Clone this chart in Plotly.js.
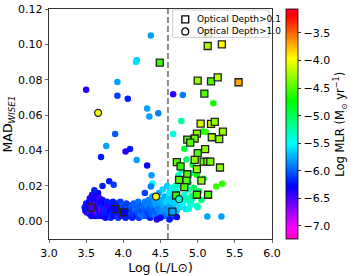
<!DOCTYPE html>
<html><head><meta charset="utf-8">
<script src="https://cdn.plot.ly/plotly-3.0.1.min.js"></script>
<style>html,body{margin:0;padding:0;background:#fff}#chart{width:357px;height:276px}</style>
</head><body><div id="chart"></div>
<script>
// Dense cluster (Log L, MAD, Log MLR)
const clusterA_L = [3.48,3.49,3.50,3.51,3.52,3.53,3.54,3.55,3.55,3.56,3.56];
const clusterA_MAD = [.008,.006,.010,.005,.009,.007,.011,.004,.013,.006,.009];
const clusterA_MLR = [-6.2,-6.3,-6.2,-6.35,-6.45,-6.2,-6.3,-6.45,-6.35,-6.6,-6.3];

const clusterB_L = [3.57,3.58,3.58,3.59,3.60,3.60,3.61,3.62,3.62,3.63,3.63,3.64,3.65,3.65,3.66,3.66,3.67,3.68,3.68,3.69,3.69,3.70,3.70];
const clusterB_MAD = [.003,.011,.015,.007,.005,.012,.009,.003,.014,.007,.010,.005,.012,.008,.003,.016,.010,.006,.013,.004,.009,.011,.007];
const clusterB_MLR = [-6.35,-6.5,-6.4,-6.7,-6.35,-6.3,-6.5,-6.3,-6.35,-6.4,-6.6,-6.7,-6.3,-6.35,-6.2,-6.3,-6.45,-6.3,-6.5,-6.45,-6.2,-6.35,-6.6];

const clusterC_L = [3.71,3.72,3.72,3.73,3.74,3.75,3.75,3.76,3.77,3.78,3.78,3.79,3.80,3.80,3.81,3.82,3.83,3.83,3.84,3.85];
const clusterC_MAD = [.003,.009,.012,.006,.004,.010,.007,.002,.008,.005,.011,.003,.007,.009,.004,.006,.010,.002,.008,.005];
const clusterC_MLR = [-6.3,-6.2,-6.35,-6.45,-6.2,-6.3,-6.15,-6.35,-6.45,-6.2,-6.2,-6.3,-6.15,-6.35,-6.2,-6.3,-6.2,-6.15,-6.35,-6.2];

const clusterD_L = [3.86,3.87,3.88,3.89,3.90,3.91,3.92,3.93,3.94,3.95,3.96,3.97,3.98,3.99,4.00,4.01,4.02,4.03,4.04,4.05,4.06,4.07,4.08,4.09,4.10];
const clusterD_MAD = [.011,.003,.007,.009,.004,.006,.010,.002,.008,.005,.011,.003,.007,.009,.004,.008,.006,.002,.010,.005,.007,.003,.009,.006,.004];
const clusterD_MLR = [-6.2,-6.3,-6.1,-6.4,-6.2,-6.3,-6.2,-6.1,-6.3,-6.2,-6.1,-6.4,-6.2,-6.0,-6.3,-6.1,-6.2,-6.2,-6.1,-6.3,-6.0,-6.2,-6.1,-6.2,-6.1];

const clusterE_L = [4.11,4.12,4.13,4.14,4.15,4.16,4.17,4.18,4.19,4.20,4.21,4.22,4.23,4.24,4.25,4.26,4.27,4.28,4.29,4.30];
const clusterE_MAD = [.008,.002,.006,.010,.004,.007,.003,.009,.005,.011,.002,.007,.004,.009,.006,.003,.008,.005,.011,.007];
const clusterE_MLR = [-6.0,-6.2,-6.1,-6.0,-6.1,-5.95,-6.2,-6.0,-6.05,-5.95,-6.1,-6.0,-5.95,-6.0,-6.1,-5.95,-5.95,-6.0,-5.9,-6.0];

const clusterF_L = [4.31,4.32,4.33,4.34,4.35,4.36,4.37,4.38,4.39,4.40,4.41,4.42,4.43,4.44,4.45,4.46,4.47,4.48,4.49,4.50];
const clusterF_MAD = [.003,.009,.005,.012,.007,.002,.010,.004,.014,.008,.006,.011,.003,.009,.005,.013,.007,.016,.004,.010];
const clusterF_MLR = [-6.0,-5.9,-6.1,-5.9,-6.0,-6.2,-5.9,-6.0,-5.8,-5.9,-6.0,-5.8,-5.9,-5.8,-6.0,-5.75,-5.9,-5.75,-5.9,-5.8];

const clusterG_L = [4.51,4.52,4.53,4.54,4.55,4.56,4.57,4.58,4.59,4.60,4.61,4.62,4.63,4.64,4.65,4.66,4.67,4.68,4.69,4.70];
const clusterG_MAD = [.012,.006,.018,.009,.003,.014,.011,.007,.020,.005,.013,.016,.009,.002,.011,.019,.007,.014,.004,.010];
const clusterG_MLR = [-5.75,-5.85,-5.65,-5.75,-5.95,-5.75,-5.65,-5.85,-5.65,-5.85,-5.65,-5.55,-5.75,-6.05,-5.65,-5.55,-5.75,-5.65,-5.95,-5.65];

const clusterH_L = [4.71,4.72,4.74,4.76,4.78,4.80,4.82,4.84,4.86,4.88,4.90,4.93,4.45,4.50,4.62,4.72];
const clusterH_MAD = [.017,.006,.012,.008,.020,.010,.015,.007,.012,.018,.009,.013,.001,.002,.001,.0025];
const clusterH_MLR = [-5.4,-5.7,-5.5,-5.6,-5.4,-5.5,-5.4,-5.6,-5.4,-5.3,-5.5,-5.4,-6.4,-6.3,-6.2,-6.3];

// Scattered dots above the cluster
const sparseL = [4.37,4.18,4.17,3.92,3.50,3.92,4.06,4.67,4.32,4.35,4.47,4.80,4.67,3.89,3.77,3.70,4.09,4.03,4.18,4.32,4.38,3.81,3.87,3.72,3.61,4.39,4.37,4.29,4.78];
const sparseMAD = [.105,.091,.090,.0788,.0744,.071,.0693,.0718,.0637,.0592,.0611,.0714,.0494,.0494,.0425,.0364,.0409,.0394,.0347,.0315,.026,.0227,.0206,.0199,.0176,.0213,.0197,.016,.0567];
const sparseMLR = [-5.8,-5.7,-5.6,-5.8,-6.4,-6.1,-6.2,-6.4,-5.8,-5.8,-5.9,-5.9,-5.4,-6.0,-5.8,-6.2,-6.2,-6.4,-5.8,-6.3,-5.8,-6.2,-6.1,-6.2,-6.2,-5.5,-5.9,-6.1,-5.2];

// Greenish dots at high luminosity
const brightL = [5.21,5.07,5.11,4.93,4.90,4.99,5.25,5.33,5.13,5.32,4.78,4.85,4.95,5.02,4.88,4.74,5.08,4.70,4.92,5.05,4.84,5.00,4.82,4.91,4.99,4.88];
const brightMAD = [.0667,.0507,.0505,.032,.0272,.0263,.0197,.0212,.0027,.0027,.029,.035,.019,.017,.022,.026,.024,.020,.0145,.012,.013,.008,.041,.011,.0088,.0069];
const brightMLR = [-4.7,-4.7,-4.6,-4.9,-5.1,-4.7,-4.6,-4.6,-5.8,-5.8,-5.2,-5.1,-5.0,-5.0,-5.2,-5.3,-4.9,-5.3,-5.1,-5.1,-5.3,-5.3,-4.9,-5.3,-5.3,-5.4];

// Optical depth > 0.1 (squares)
const sqL = [4.49,5.135,5.135,5.325,5.00,5.18,5.27,5.55,5.09,5.04,5.18,5.23,5.34,4.99,5.19,4.96,4.86,4.90,5.29,5.10,5.00,4.96,5.08,5.13,5.17,5.30,4.72,4.77,4.99,4.86,4.75,4.85,5.05,4.82,4.71,4.99,5.14,4.66,3.57,3.89,4.01];
const sqMAD = [.0897,.106,.0991,.100,.0795,.0791,.0814,.0786,.0722,.0552,.0551,.0562,.0507,.0496,.0475,.0468,.0462,.0445,.0464,.0408,.0385,.0347,.0337,.0337,.0337,.0304,.0334,.031,.0295,.0266,.0234,.023,.023,.0193,.0146,.015,.015,.0055,.0078,.0069,.005];
const sqMLR = [-4.6,-4.0,-4.2,-3.95,-4.3,-4.5,-4.2,-3.7,-4.5,-4.1,-4.1,-4.3,-4.3,-4.3,-4.25,-4.4,-4.5,-4.5,-4.3,-4.3,-4.5,-4.3,-4.4,-4.45,-4.4,-4.3,-4.5,-4.6,-4.3,-4.5,-4.5,-4.5,-4.3,-4.5,-4.6,-4.5,-4.5,-5.8,-6.5,-6.3,-6.3];

// Optical depth > 1.0 (circles)
const ciL = [3.66,4.44,4.75];
const ciMAD = [.0613,.014,.0125];
const ciMLR = [-4.0,-4.0,-5.4];

const xTicks = [3.0,3.5,4.0,4.5,5.0,5.5,6.0];
const yTicks = [0.00,0.02,0.04,0.06,0.08,0.10,0.12];
const cbTicks = [-7.0,-6.5,-6.0,-5.5,-5.0,-4.5,-4.0,-3.5];
const legendLabels = ['Optical Depth>0.1','Optical Depth>1.0'];
const cutLogL = 4.6;

const dotL = [].concat(clusterA_L,clusterB_L,clusterC_L,clusterD_L,clusterE_L,clusterF_L,clusterG_L,clusterH_L,sparseL,brightL);
const dotMAD = [].concat(clusterA_MAD,clusterB_MAD,clusterC_MAD,clusterD_MAD,clusterE_MAD,clusterF_MAD,clusterG_MAD,clusterH_MAD,sparseMAD,brightMAD);
const dotMLR = [].concat(clusterA_MLR,clusterB_MLR,clusterC_MLR,clusterD_MLR,clusterE_MLR,clusterF_MLR,clusterG_MLR,clusterH_MLR,sparseMLR,brightMLR);

const cmin = -7.24, cmax = -3.07;
const cscale = [[0,'rgb(255,0,191)'],[0.046,'rgb(255,0,255)'],[0.23,'rgb(0,0,255)'],[0.414,'rgb(0,255,255)'],[0.6,'rgb(0,255,0)'],[0.785,'rgb(255,255,0)'],[0.97,'rgb(255,0,0)'],[1,'rgb(255,0,41)']];
const FONT = 'DejaVu Sans, sans-serif';

const traces = [
  {type:'scatter', mode:'markers', x:dotL, y:dotMAD, showlegend:false, hoverinfo:'skip',
   marker:{size:6.5, color:dotMLR, colorscale:cscale, cmin:cmin, cmax:cmax, line:{width:0},
     showscale:true,
     colorbar:{thickness:12, len:230, lenmode:'pixels', x:1.061, xanchor:'left', xref:'paper',
       y:0.499, yanchor:'middle', ypad:0, xpad:0, outlinewidth:0.8, outlinecolor:'#000',
       ticks:'outside', ticklen:3.5, tickwidth:0.8, tickcolor:'#000',
       tickvals:cbTicks, tickformat:'.1f', tickfont:{family:FONT, size:11, color:'#000'},
       title:{text:'Log MLR (M<sub>⊙</sub> yr<sup>−1</sup>)', side:'right', font:{family:FONT, size:11.5, color:'#000'}}}}},
  {type:'scatter', mode:'markers', x:sqL, y:sqMAD, showlegend:false, hoverinfo:'skip',
   marker:{symbol:'square', size:7, color:sqMLR, colorscale:cscale, cmin:cmin, cmax:cmax, line:{width:1.3, color:'#222'}}},
  {type:'scatter', mode:'markers', x:ciL, y:ciMAD, showlegend:false, hoverinfo:'skip',
   marker:{symbol:'circle', size:7, color:ciMLR, colorscale:cscale, cmin:cmin, cmax:cmax, line:{width:1.3, color:'#222'}}}
];

// Hand-built legend box (paper coordinates)
const legendShapes = [
  {type:'rect', xref:'paper', yref:'paper', x0:0.5546, x1:0.987, y0:0.8766, y1:0.9957,
   fillcolor:'rgba(255,255,255,0.8)', line:{color:'#d0d0d0', width:1}, layer:'above'},
  {type:'rect', xref:'paper', yref:'paper', x0:0.5956, x1:0.6266, y0:0.9394, y1:0.9697,
   fillcolor:'rgba(0,0,0,0)', line:{color:'#000', width:1.3}, layer:'above'},
  {type:'circle', xref:'paper', yref:'paper', x0:0.5956, x1:0.6266, y0:0.8874, y1:0.9177,
   fillcolor:'rgba(0,0,0,0)', line:{color:'#000', width:1.3}, layer:'above'}
];

const layout = {
  width:357, height:276,
  margin:{l:49, r:79, t:8.5, b:37, pad:0},
  paper_bgcolor:'#fff', plot_bgcolor:'#fff',
  font:{family:FONT, size:11, color:'#000'},
  showlegend:false,
  xaxis:{range:[3,6], tickvals:xTicks, tickformat:'.1f', ticks:'outside', ticklen:3.5, tickwidth:0.8,
    showline:true, mirror:true, linecolor:'#000', linewidth:0.8, showgrid:false, zeroline:false,
    tickfont:{family:FONT, size:11}, title:{text:'Log (L/L⊙)', font:{family:FONT, size:12.5}, standoff:4}},
  yaxis:{range:[-0.01,0.12], tickvals:yTicks, tickformat:'.2f', ticks:'outside', ticklen:3.5, tickwidth:0.8,
    showline:true, mirror:true, linecolor:'#000', linewidth:0.8, showgrid:false, zeroline:false,
    tickfont:{family:FONT, size:11}, title:{text:'MAD<sub><i>WISE1</i></sub>', font:{family:FONT, size:12.5}, standoff:4}},
  shapes:[{type:'line', xref:'x', yref:'paper', x0:cutLogL, x1:cutLogL, y0:0, y1:1,
    line:{color:'#8c8c8c', width:2, dash:'6px,3px'}, layer:'below'}].concat(legendShapes),
  annotations:[
    {xref:'paper', yref:'paper', x:0.655, y:0.9567, xanchor:'left', yanchor:'middle', showarrow:false,
     text:legendLabels[0], font:{family:FONT, size:9, color:'#000'}},
    {xref:'paper', yref:'paper', x:0.655, y:0.9048, xanchor:'left', yanchor:'middle', showarrow:false,
     text:legendLabels[1], font:{family:FONT, size:9, color:'#000'}}
  ]
};

Plotly.newPlot('chart', traces, layout, {displayModeBar:false, staticPlot:true});
</script>
</body></html>
